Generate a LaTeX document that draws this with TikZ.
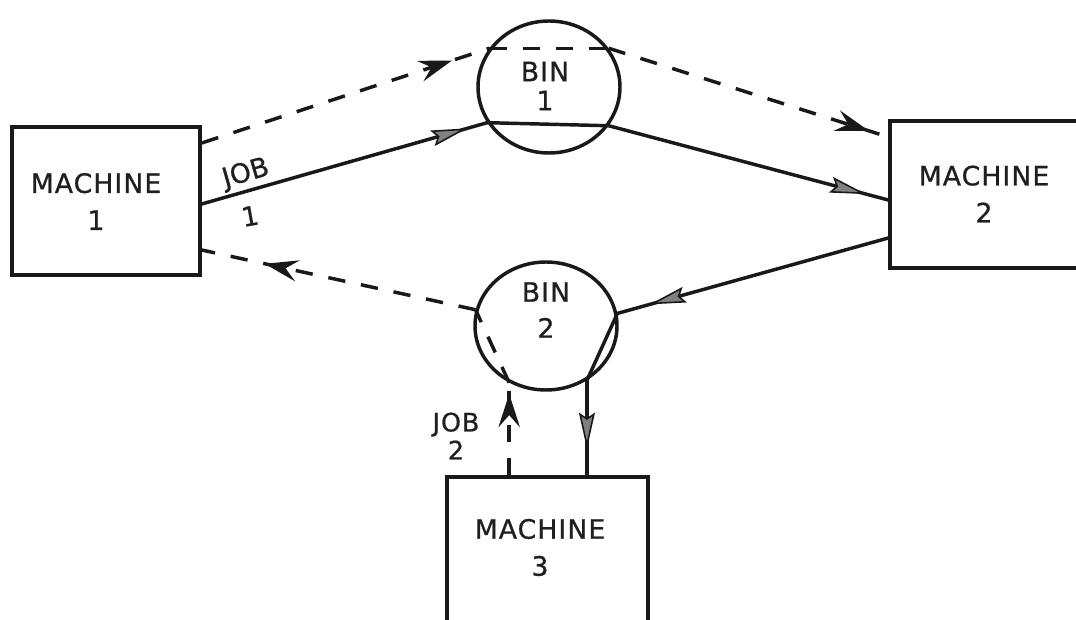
\documentclass[tikz,border=0pt]{standalone}
\usepackage{fontspec}
\setmainfont{DejaVu Sans}[LetterSpace=4, FakeBold=0.8]
\newfontfamily\tightfont{DejaVu Sans}[FakeBold=0.8]
\usetikzlibrary{arrows.meta,decorations.markings,shapes.geometric}

\tikzset{
  x=0.75pt, y=-0.75pt,
  ink/.style={line width=2.6pt, draw=black!90},
  dashline/.style={dash pattern=on 13pt off 12pt},
  machine/.style={ink, rectangle, inner sep=0pt},
  bin/.style={ink, ellipse, inner sep=0pt, minimum width=106.5pt},
  tag/.style={text=black!88, inner sep=0pt, align=center,
    font=\fontsize{20pt}{27.75pt}\selectfont},
  solidtip/.tip={Stealth[length=27pt, width=12pt, inset=4pt, line width=1.2pt, fill=black!50]},
  dashtip/.tip={Stealth[length=25pt, width=16pt, inset=9pt]},
  arr/.style={postaction={decorate}, decoration={markings,
    mark=at position #1 with {\arrow{solidtip}}}},
  darr/.style={postaction={decorate}, decoration={markings,
    mark=at position #1 with {\arrow{dashtip}}}}
}

\begin{document}
\begin{tikzpicture}
  \clip (0,0) rectangle (1076,620);
  \fill[white] (0,0) rectangle (1076,620);

  % machines (machine 2 and 3 run past the edge of the sheet)
  \node[machine, minimum width=141pt, minimum height=111pt] (m1) at (106,201) {};
  \node[machine, minimum width=157.5pt, minimum height=110.25pt] (m2) at (995,194.5) {};
  \node[machine, minimum width=150.75pt, minimum height=129.75pt] (m3) at (547.5,563.5) {};

  % bins
  \node[bin, minimum height=99pt] (bin1) at (549,87) {};
  \node[bin, minimum height=96pt] (bin2) at (546,326) {};

  % texts
  \node[tag] (t1) at (96,201.5) {MACHINE\\1};
  \node[tag] (t2) at (984,194) {MACHINE\\2};
  \node[tag] (t3) at (540,547.5) {MACHINE\\3};
  \node[tag, font=\fontsize{20pt}{21.75pt}\selectfont] (tb1) at (545,86) {BIN\\1};
  \node[tag, font=\fontsize{20pt}{27pt}\selectfont] (tb2) at (546,310) {BIN\\2};
  \node[tag, rotate=16, font=\tightfont\fontsize{20pt}{24pt}\selectfont] (job1) at (246,174) {JOB};
  \node[tag, rotate=10] (job1n) at (250,216) {1};
  \node[tag, font=\fontsize{19pt}{21pt}\selectfont] (job2) at (456,436) {JOB\\2};

  % ports on the machines
  \coordinate (m1o) at (m1.east |- 0,204);
  \coordinate (m1d) at (m1.east |- 0,143);
  \coordinate (m1i) at (m1.east |- 0,250);
  \coordinate (m2i) at (m2.west |- 0,200);
  \coordinate (m2d) at (m2.west |- 0,137);
  \coordinate (m2o) at (m2.west |- 0,238);
  \coordinate (m3i) at (m3.north -| bin2.307);
  \coordinate (m3d) at (m3.north -| bin2.237);

  % job 1: machine 1 -> bin 1 -> machine 2
  \draw[ink, arr=0.93] (m1o) -- (bin1.210);
  \draw[ink] (bin1.210) -- (bin1.327);
  \draw[ink, arr=0.92] (bin1.327) -- (m2i);

  % job 1 return flow (dashed)
  \draw[ink, dashline, darr=0.87] (m1d) -- (bin1.147);
  \draw[ink, dashline] (bin1.147) -- (bin1.33);
  \draw[ink, dashline, darr=0.93] (bin1.33) -- (m2d);

  % job 2: machine 2 -> bin 2 -> machine 3
  \draw[ink, arr=0.88] (m2o) -- (bin2.10);
  \draw[ink] (bin2.10) -- (bin2.307);
  \draw[ink, arr=0.72] (bin2.307) -- (m3i);

  % job 2 dashed flow: machine 3 -> bin 2 -> machine 1
  \draw[ink, dashline, darr=0.88] (m3d) -- (bin2.237);
  \draw[ink, dashline] (bin2.237) -- (bin2.167);
  \draw[ink, dashline, darr=0.77] (bin2.167) -- (m1i);
\end{tikzpicture}
\end{document}
